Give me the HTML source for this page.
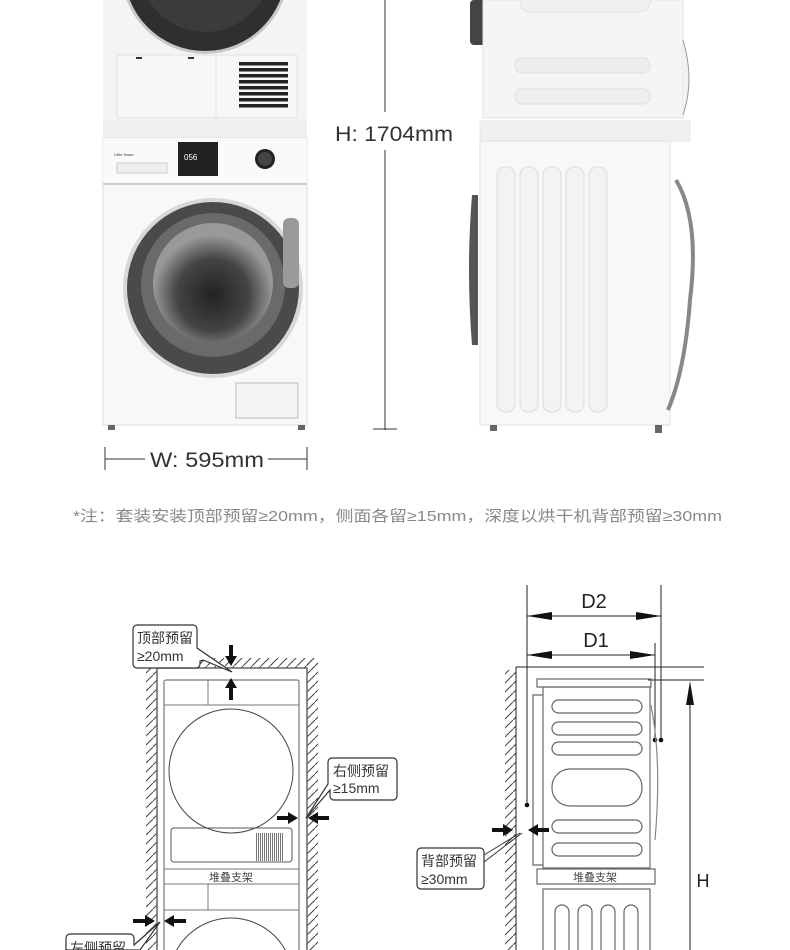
<!DOCTYPE html>
<html><head><meta charset="utf-8"><style>
html,body{margin:0;padding:0;background:#fff;width:790px;height:950px;overflow:hidden;}
svg{display:block;}
text{font-family:"Liberation Sans","Noto Sans CJK SC",sans-serif;}
</style></head><body>
<svg width="790" height="950" viewBox="0 0 790 950" xmlns="http://www.w3.org/2000/svg">
<defs>
<radialGradient id="glass" cx="50%" cy="60%" r="50%">
<stop offset="0" stop-color="#222"/><stop offset="0.6" stop-color="#444"/><stop offset="1" stop-color="#999"/>
</radialGradient>
<pattern id="hatchL" width="9" height="9" patternUnits="userSpaceOnUse">
<line x1="0" y1="9" x2="9" y2="0" stroke="#444" stroke-width="1"/>
</pattern>
<pattern id="vl" width="2" height="4" patternUnits="userSpaceOnUse">
<rect x="0" y="0" width="1" height="4" fill="#777"/>
</pattern>
</defs>

<!-- ===== Front view photo ===== -->
<rect x="103" y="0" width="204" height="120" fill="#f4f4f4"/>
<circle cx="205" cy="-30" r="84" fill="#c8c8c8"/>
<circle cx="205" cy="-30" r="81" fill="#2f2f2f"/>
<circle cx="205" cy="-34" r="66" fill="#3b3b3b"/>
<rect x="117" y="55" width="180" height="63" fill="#f7f7f7" stroke="#e2e2e2"/>
<line x1="216" y1="55" x2="216" y2="118" stroke="#e0e0e0"/>
<rect x="136" y="57" width="6" height="2" fill="#333"/>
<rect x="188" y="57" width="6" height="2" fill="#333"/>
<g fill="#222">
<rect x="239" y="62" width="49" height="3.5"/><rect x="239" y="68" width="49" height="3.5"/><rect x="239" y="74" width="49" height="3.5"/><rect x="239" y="80" width="49" height="3.5"/><rect x="239" y="86" width="49" height="3.5"/><rect x="239" y="92" width="49" height="3.5"/><rect x="239" y="98" width="49" height="3.5"/><rect x="239" y="104" width="49" height="3.5"/>
</g>
<rect x="103" y="120" width="204" height="18" fill="#f0f0f0"/>
<rect x="103" y="138" width="204" height="287" fill="#f8f8f8" stroke="#ddd"/>
<rect x="103" y="138" width="204" height="47" fill="#fafafa"/>
<line x1="103" y1="184" x2="307" y2="184" stroke="#ccc" stroke-width="2"/>
<rect x="178" y="142" width="40" height="34" fill="#222"/>
<text x="184" y="160" font-size="8" fill="#fff">056</text>
<circle cx="265" cy="159" r="10" fill="#222"/>
<circle cx="265" cy="159" r="7" fill="#444"/>
<rect x="117" y="163" width="50" height="10" fill="#eee" stroke="#ccc"/>
<text x="114" y="156" font-size="4" fill="#333">Little Swan</text>
<circle cx="213" cy="288" r="90" fill="#d8d8d8"/>
<circle cx="213" cy="288" r="86" fill="#4a4a4a"/>
<circle cx="213" cy="285" r="72" fill="#6a6a6a"/>
<circle cx="213" cy="283" r="60" fill="url(#glass)"/>
<rect x="283" y="218" width="16" height="70" rx="6" fill="#9a9a9a"/>
<rect x="236" y="383" width="62" height="35" fill="#f4f4f4" stroke="#bbb"/>
<rect x="108" y="425" width="7" height="5" fill="#666"/>
<rect x="298" y="425" width="7" height="5" fill="#666"/>

<!-- Dimensions -->
<line x1="385" y1="0" x2="385" y2="112" stroke="#333"/>
<line x1="385" y1="150" x2="385" y2="430" stroke="#333"/>
<line x1="373" y1="429" x2="397" y2="429" stroke="#333"/>
<text x="335" y="141" font-size="21" fill="#333" textLength="118" lengthAdjust="spacingAndGlyphs">H: 1704mm</text>
<line x1="105" y1="447" x2="105" y2="470" stroke="#333"/>
<line x1="307" y1="447" x2="307" y2="470" stroke="#333"/>
<line x1="105" y1="459" x2="145" y2="459" stroke="#333"/>
<line x1="268" y1="459" x2="307" y2="459" stroke="#333"/>
<text x="150" y="467" font-size="21" fill="#333" textLength="114" lengthAdjust="spacingAndGlyphs">W: 595mm</text>

<!-- ===== Side view photo ===== -->
<rect x="470" y="0" width="18" height="45" rx="4" fill="#444"/>
<rect x="483" y="0" width="200" height="118" fill="#f5f5f5" stroke="#e2e2e2"/>
<rect x="520" y="-10" width="130" height="22" rx="10" fill="#f0f0f0" stroke="#e0e0e0"/>
<rect x="515" y="58" width="135" height="15" rx="7" fill="#eee" stroke="#ddd"/>
<rect x="515" y="89" width="135" height="15" rx="7" fill="#eee" stroke="#ddd"/>
<path d="M683 40 Q695 80 683 115" stroke="#999" fill="#f2f2f2"/>
<rect x="480" y="121" width="210" height="20" fill="#f0f0f0" stroke="#e6e6e6"/>
<rect x="480" y="141" width="190" height="284" fill="#f8f8f8" stroke="#e0e0e0"/>
<path d="M472 195 Q466 270 472 345 L478 345 L478 195 Z" fill="#555"/>
<g fill="#f3f3f3" stroke="#ddd">
<rect x="497" y="167" width="18" height="245" rx="8"/>
<rect x="520" y="167" width="18" height="245" rx="8"/>
<rect x="543" y="167" width="18" height="245" rx="8"/>
<rect x="566" y="167" width="18" height="245" rx="8"/>
<rect x="589" y="167" width="18" height="245" rx="8"/>
</g>
<path d="M676 180 Q700 220 690 300 Q685 370 668 410" stroke="#888" stroke-width="4" fill="none"/>
<rect x="490" y="425" width="7" height="6" fill="#666"/>
<rect x="655" y="425" width="7" height="8" fill="#666"/>

<!-- Note -->
<text x="73" y="521" font-size="15" fill="#888" textLength="649" lengthAdjust="spacingAndGlyphs">*注：套装安装顶部预留≥20mm，侧面各留≥15mm，深度以烘干机背部预留≥30mm</text>

<!-- ===== Left drawing ===== -->
<g stroke="#555" fill="none">
<rect x="146" y="668" width="11" height="282" fill="url(#hatchL)" stroke="none"/>
<rect x="307" y="660" width="11" height="290" fill="url(#hatchL)" stroke="none"/>
<rect x="200" y="658" width="118" height="10" fill="url(#hatchL)" stroke="none"/>
<rect x="157" y="668" width="150" height="290" stroke="#666" stroke-width="1.5"/>
<rect x="164" y="680" width="135" height="280" rx="2" stroke="#777" stroke-width="1.2"/>
<line x1="164" y1="705" x2="299" y2="705" stroke="#777"/>
<line x1="208" y1="680" x2="208" y2="705" stroke="#777"/>
<circle cx="231" cy="771" r="62" stroke="#444"/>
<rect x="171" y="828" width="121" height="34" rx="3" stroke="#555"/>
<rect x="255" y="833" width="28" height="28" fill="url(#vl)" stroke="none"/>
<line x1="164" y1="869" x2="299" y2="869" stroke="#777"/>
<line x1="164" y1="884" x2="299" y2="884" stroke="#777"/>
<line x1="164" y1="910" x2="299" y2="910" stroke="#777"/>
<line x1="208" y1="884" x2="208" y2="910" stroke="#777"/>
<circle cx="231" cy="980" r="62" stroke="#444"/>
</g>
<text x="231" y="881" font-size="11" fill="#444" text-anchor="middle">堆叠支架</text>

<!-- top callout -->
<path d="M140 625 H193 a4 4 0 0 1 4 4 V648 L232 672 L203 660 L200 661 V664 a4 4 0 0 1 -4 4 H137 a4 4 0 0 1 -4 -4 V629 a4 4 0 0 1 4 -4 Z" fill="#fff" stroke="#333" stroke-width="1.2"/>
<text x="137" y="643" font-size="14" fill="#333">顶部预留</text>
<text x="137" y="661" font-size="14" fill="#333">≥20mm</text>
<g fill="#111">
<polygon points="229,645 233,645 233,656 237,656 231,666 225,656 229,656"/>
<polygon points="229,700 233,700 233,688 237,688 231,678 225,688 229,688"/>
</g>
<!-- right callout -->
<path d="M332 758 H393 a4 4 0 0 1 4 4 V796 a4 4 0 0 1 -4 4 H334 a4 4 0 0 1 -4 -4 V790 L306 818 L328 784 V762 a4 4 0 0 1 4 -4 Z" fill="#fff" stroke="#333" stroke-width="1.2"/>
<text x="333" y="776" font-size="14" fill="#333">右侧预留</text>
<text x="333" y="793" font-size="14" fill="#333">≥15mm</text>
<g fill="#111">
<polygon points="277,816 288,816 288,812 298,818 288,824 288,820 277,820"/>
<polygon points="329,816 318,816 318,812 308,818 318,824 318,820 329,820"/>
</g>
<!-- left callout -->
<g fill="#111">
<polygon points="133,919 145,919 145,915 155,921 145,927 145,923 133,923"/>
<polygon points="186,919 174,919 174,915 164,921 174,927 174,923 186,923"/>
</g>
<path d="M70 934 H130 a4 4 0 0 1 4 4 V945 L160 922 L140 950 H66 V938 a4 4 0 0 1 4 -4 Z" fill="#fff" stroke="#333" stroke-width="1.2"/>
<text x="70" y="953" font-size="14" fill="#333">左侧预留</text>

<!-- ===== Right drawing ===== -->
<rect x="505" y="670" width="11" height="280" fill="url(#hatchL)"/>
<g stroke="#222" fill="none" stroke-width="1">
<line x1="516" y1="667" x2="516" y2="950"/>
<line x1="516" y1="667" x2="704" y2="667"/>
<line x1="648" y1="680" x2="704" y2="680"/>
<line x1="527" y1="585" x2="527" y2="805"/>
<line x1="661" y1="585" x2="661" y2="740"/>
<line x1="655" y1="643" x2="655" y2="740"/>
<line x1="527" y1="616" x2="661" y2="616"/>
<line x1="527" y1="655" x2="655" y2="655"/>
<line x1="690" y1="690" x2="690" y2="950"/>
</g>
<g fill="#111">
<polygon points="527,616 552,612 552,620"/><polygon points="661,616 636,612 636,620"/>
<polygon points="527,655 552,651 552,659"/><polygon points="655,655 630,651 630,659"/>
<polygon points="690,681 686,705 694,705"/>
<circle cx="655" cy="740" r="2.3"/><circle cx="661" cy="740" r="2.3"/><circle cx="527" cy="805" r="2.3"/>
</g>
<text x="594" y="608" font-size="20" fill="#222" text-anchor="middle">D2</text>
<text x="596" y="647" font-size="20" fill="#222" text-anchor="middle">D1</text>
<text x="703" y="887" font-size="18" fill="#222" text-anchor="middle">H</text>
<g stroke="#666" fill="none" stroke-width="1.2">
<rect x="537" y="679" width="114" height="8"/>
<rect x="543" y="687" width="107" height="181"/>
<path d="M543 695 H533 V865 H543"/>
<line x1="650" y1="705" x2="650" y2="868" stroke="#888"/>
<path d="M651 705 Q662 760 655 840" stroke="#888"/>
<rect x="552" y="700" width="90" height="13" rx="6.5"/>
<rect x="552" y="722" width="90" height="13" rx="6.5"/>
<rect x="552" y="742" width="90" height="13" rx="6.5"/>
<rect x="552" y="769" width="90" height="37" rx="18"/>
<rect x="552" y="820" width="90" height="13" rx="6.5"/>
<rect x="552" y="843" width="90" height="13" rx="6.5"/>
<rect x="537" y="869" width="118" height="15"/>
<rect x="543" y="889" width="107" height="70"/>
<rect x="555" y="905" width="14" height="60" rx="7"/>
<rect x="578" y="905" width="14" height="60" rx="7"/>
<rect x="601" y="905" width="14" height="60" rx="7"/>
<rect x="624" y="905" width="14" height="60" rx="7"/>
</g>
<text x="595" y="881" font-size="11" fill="#444" text-anchor="middle">堆叠支架</text>
<g fill="#111">
<polygon points="492,828 503,828 503,824 513,830 503,836 503,832 492,832"/>
<polygon points="549,828 538,828 538,824 528,830 538,836 538,832 549,832"/>
</g>
<path d="M421 848 H480 a4 4 0 0 1 4 4 V885 a4 4 0 0 1 -4 4 H421 a4 4 0 0 1 -4 -4 V852 a4 4 0 0 1 4 -4 Z" fill="#fff" stroke="#333" stroke-width="1.2"/>
<line x1="484" y1="855" x2="520" y2="833" stroke="#333"/>
<line x1="484" y1="862" x2="522" y2="833" stroke="#333"/>
<text x="421" y="866" font-size="14" fill="#333">背部预留</text>
<text x="421" y="884" font-size="14" fill="#333">≥30mm</text>
</svg>
</body></html>
